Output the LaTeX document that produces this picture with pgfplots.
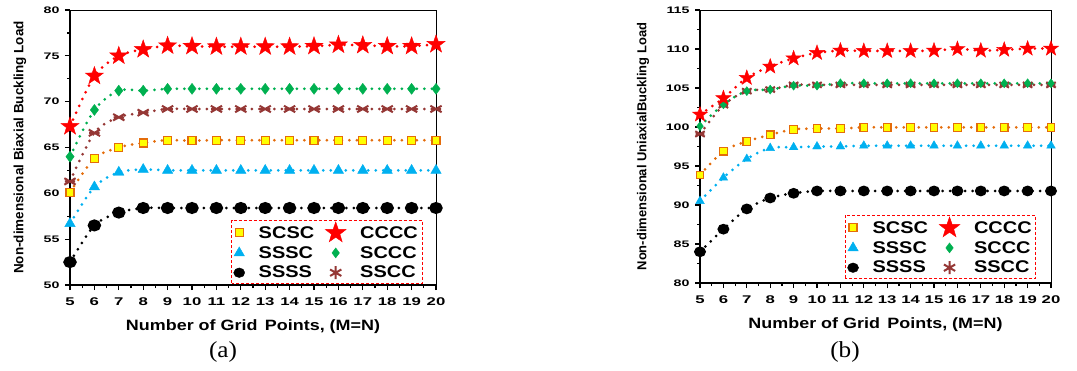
\documentclass[border=0pt]{standalone}
\usepackage{fontspec}
\setmainfont{Liberation Sans}
\usepackage{pgfplots}
\pgfplotsset{compat=1.18}
\usetikzlibrary{plotmarks}
\newfontfamily\tickfont[FakeStretch=1.5]{Liberation Sans}
\newfontfamily\labfont[FakeStretch=1.2]{Liberation Sans}
\newfontfamily\legfont[FakeStretch=1.18]{Liberation Sans}
\newfontfamily\capfont[FakeStretch=1.1]{Liberation Serif}

\definecolor{cOrange}{HTML}{E46C0A}
\definecolor{cRed}{HTML}{FF0000}
\definecolor{cBlue}{HTML}{00B0F0}
\definecolor{cGreen}{HTML}{00B050}
\definecolor{cBrown}{HTML}{953735}
\definecolor{cYellow}{HTML}{FFFF00}

\pgfdeclareplotmark{fstar}{%
  \pgfpathmoveto{\pgfpointpolar{90}{\pgfplotmarksize}}%
  \pgfpathlineto{\pgfpointpolar{126}{0.40\pgfplotmarksize}}%
  \pgfpathlineto{\pgfpointpolar{162}{\pgfplotmarksize}}%
  \pgfpathlineto{\pgfpointpolar{198}{0.40\pgfplotmarksize}}%
  \pgfpathlineto{\pgfpointpolar{234}{\pgfplotmarksize}}%
  \pgfpathlineto{\pgfpointpolar{270}{0.40\pgfplotmarksize}}%
  \pgfpathlineto{\pgfpointpolar{306}{\pgfplotmarksize}}%
  \pgfpathlineto{\pgfpointpolar{342}{0.40\pgfplotmarksize}}%
  \pgfpathlineto{\pgfpointpolar{18}{\pgfplotmarksize}}%
  \pgfpathlineto{\pgfpointpolar{54}{0.40\pgfplotmarksize}}%
  \pgfpathclose
  \pgfusepathqfillstroke}

\pgfdeclareplotmark{xast}{%
  \pgfpathmoveto{\pgfpointpolar{30}{\pgfplotmarksize}}%
  \pgfpathlineto{\pgfpointpolar{210}{\pgfplotmarksize}}%
  \pgfpathmoveto{\pgfpointpolar{150}{\pgfplotmarksize}}%
  \pgfpathlineto{\pgfpointpolar{330}{\pgfplotmarksize}}%
  \pgfpathmoveto{\pgfpointpolar{0}{0.8\pgfplotmarksize}}%
  \pgfpathlineto{\pgfpointpolar{180}{0.8\pgfplotmarksize}}%
  \pgfusepathqstroke}

\tikzset{legbox/.style={draw=cRed, line width=0.9bp, dash pattern=on 3bp off 2bp}}

\pgfplotsset{
  dotline/.style={line width=3bp, dash pattern=on 0pt off 7.5bp, line cap=round, smooth},
  mSCSC/.style={color=cOrange, mark=square*, mark size=#1, mark options={solid, fill=cYellow, draw=cOrange, line width=1.2bp}},
  mCCCC/.style={color=cRed, mark=fstar, mark size=#1, mark options={solid, fill=cRed, draw=cRed, line width=0.4bp}},
  mSSSC/.style={color=cBlue, mark=triangle*, mark size=#1, mark options={solid, fill=cBlue, draw=cBlue, line width=0.4bp}},
  mSCCC/.style={color=cGreen, mark=diamond*, mark size=#1, mark options={solid, fill=cGreen, draw=cGreen, line width=0.4bp}},
  mSSSS/.style={color=black, mark=*, mark size=#1, mark options={solid, fill=black, draw=black, xscale=1.15}},
  mSSCC/.style={color=cBrown, mark=asterisk, mark size=#1, mark options={solid, draw=cBrown, line width=2bp, line cap=butt}},
  mSSCCx/.style={color=cBrown, mark=xast, mark size=#1, mark options={solid, draw=cBrown, line width=2bp, line cap=butt}},
  common/.style={
    scale only axis, anchor=south west, clip=false,
    xmin=5, xmax=20, xtick={5,...,20},
    minor x tick num=1, minor y tick num=1,
    axis lines*=left,
    axis line style={-, line width=2.5bp, black},
    tick align=outside,
    major tick length=5bp, minor tick length=3bp,
    every tick/.style={black, line width=1.2bp},
    /pgf/number format/assume math mode=true,
    yticklabel style={font=\tickfont\bfseries\fontsize{9.5}{11}\selectfont, xshift=-2bp},
    xticklabel style={font=\tickfont\bfseries\fontsize{11.2}{13}\selectfont, yshift=-4bp},
    xlabel={Number of Grid\, Points, (M=N)},
    xlabel style={font=\labfont\bfseries\fontsize{15}{17}\selectfont, at={(axis description cs:0.5,0)}, anchor=center, yshift=-42bp},
    ylabel style={font=\bfseries\fontsize{13.5}{15}\selectfont, at={(axis description cs:0,0.5)}, anchor=center},
    legend columns=2,
    legend cell align=left,
    legend style={draw=none, fill=white,
      font=\legfont\bfseries\fontsize{17}{19}\selectfont,
      inner xsep=2bp, inner ysep=1.5bp, row sep=2.5bp,
      /tikz/every odd column/.style={column sep=12bp},
      /tikz/every even column/.style={column sep=9bp}},
  },
}

\begin{document}
\begin{tikzpicture}[x=1bp,y=1bp]
\useasboundingbox (0,0) rectangle (1077,370);

% ---------------- (a) ----------------
\begin{axis}[common, at={(70bp,85bp)}, width=366bp, height=275bp,
  ymin=50, ymax=80, ytick={50,55,...,80},
  ylabel={Non-dimensional Biaxial Buckling Load},
  ylabel style={xshift=0bp, yshift=50bp},
  legend style={at={(0.962,0.007)}, anchor=south east, name=legA}]
\addlegendimage{only marks, mSCSC=4bp}
\addlegendentry{SCSC}
\addlegendimage{only marks, mCCCC=11bp}
\addlegendentry{CCCC}
\addlegendimage{only marks, mSSSC=6bp}
\addlegendentry{SSSC}
\addlegendimage{only marks, mSCCC=5bp}
\addlegendentry{SCCC}
\addlegendimage{only marks, mSSSS=4.8bp}
\addlegendentry{SSSS}
\addlegendimage{only marks, mSSCC=6.5bp}
\addlegendentry{SSCC}

\addplot[forget plot, dotline, mSSSS=4.5bp] coordinates {
(5,52.5) (6,56.5) (7,57.9) (8,58.4) (9,58.4) (10,58.4) (11,58.4) (12,58.4) (13,58.4) (14,58.4) (15,58.4) (16,58.4) (17,58.4) (18,58.4) (19,58.4) (20,58.4)};
\addplot[forget plot, dotline, mSSSC=6bp] coordinates {
(5,56.7) (6,60.7) (7,62.3) (8,62.6) (9,62.5) (10,62.5) (11,62.5) (12,62.5) (13,62.5) (14,62.5) (15,62.5) (16,62.5) (17,62.5) (18,62.5) (19,62.5) (20,62.5)};
\addplot[forget plot, dotline, mSCSC=4bp] coordinates {
(5,60.1) (6,63.8) (7,65.0) (8,65.5) (9,65.8) (10,65.75) (11,65.8) (12,65.8) (13,65.8) (14,65.8) (15,65.8) (16,65.8) (17,65.8) (18,65.8) (19,65.8) (20,65.8)};
\addplot[forget plot, dotline, mSSCCx=6.5bp] coordinates {
(5,61.3) (6,66.6) (7,68.3) (8,68.8) (9,69.2) (10,69.2) (11,69.2) (12,69.2) (13,69.2) (14,69.2) (15,69.2) (16,69.2) (17,69.2) (18,69.2) (19,69.2) (20,69.2)};
\addplot[forget plot, dotline, mSCCC=5.5bp] coordinates {
(5,64.0) (6,69.1) (7,71.2) (8,71.2) (9,71.4) (10,71.4) (11,71.4) (12,71.4) (13,71.4) (14,71.4) (15,71.4) (16,71.4) (17,71.4) (18,71.4) (19,71.4) (20,71.4)};
\addplot[forget plot, dotline, mCCCC=9.5bp] coordinates {
(5,67.3) (6,72.8) (7,75.0) (8,75.7) (9,76.1) (10,76.05) (11,76.0) (12,76.0) (13,76.0) (14,76.0) (15,76.05) (16,76.2) (17,76.15) (18,76.05) (19,76.05) (20,76.25)};

\draw[line width=0.8bp] (rel axis cs:0,1) -- (rel axis cs:1,1) -- (rel axis cs:1,0);
\end{axis}
\draw[legbox] (legA.south west) rectangle (legA.north east);
\node[font=\capfont\fontsize{23}{25}\selectfont] at (223,18) {(a)};

% ---------------- (b) ----------------
\begin{axis}[common, at={(700bp,87bp)}, width=351bp, height=273bp,
  ymin=80, ymax=115, ytick={80,85,...,115},
  ylabel={Non-dimensional UniaxialBuckling Load},
  ylabel style={font=\bfseries\fontsize{13}{15}\selectfont, yshift=57bp},
  legend style={at={(0.957,0.018)}, anchor=south east, name=legB}]
\addlegendimage{only marks, mSCSC=4bp}
\addlegendentry{SCSC}
\addlegendimage{only marks, mCCCC=11bp}
\addlegendentry{CCCC}
\addlegendimage{only marks, mSSSC=6bp}
\addlegendentry{SSSC}
\addlegendimage{only marks, mSCCC=5bp}
\addlegendentry{SCCC}
\addlegendimage{only marks, mSSSS=4.8bp}
\addlegendentry{SSSS}
\addlegendimage{only marks, mSSCC=6.5bp}
\addlegendentry{SSCC}

\addplot[forget plot, dotline, mSSSS=3.8bp] coordinates {
(5,84.0) (6,86.9) (7,89.5) (8,90.9) (9,91.5) (10,91.8) (11,91.8) (12,91.8) (13,91.8) (14,91.8) (15,91.8) (16,91.8) (17,91.8) (18,91.8) (19,91.8) (20,91.8)};
\addplot[forget plot, dotline, mSSSC=5bp] coordinates {
(5,90.5) (6,93.5) (7,95.9) (8,97.3) (9,97.4) (10,97.5) (11,97.5) (12,97.6) (13,97.6) (14,97.6) (15,97.6) (16,97.6) (17,97.6) (18,97.6) (19,97.6) (20,97.6)};
\addplot[forget plot, dotline, mSCSC=3.8bp] coordinates {
(5,93.85) (6,96.9) (7,98.15) (8,99.0) (9,99.7) (10,99.8) (11,99.8) (12,99.95) (13,99.95) (14,99.95) (15,99.95) (16,99.95) (17,99.95) (18,99.95) (19,99.95) (20,99.95)};
\addplot[forget plot, dotline, mSSCCx=5.5bp] coordinates {
(5,99.1) (6,102.8) (7,104.6) (8,104.8) (9,105.4) (10,105.4) (11,105.4) (12,105.4) (13,105.4) (14,105.4) (15,105.4) (16,105.4) (17,105.4) (18,105.4) (19,105.4) (20,105.4)};
\addplot[forget plot, dotline, mSCCC=4.5bp] coordinates {
(5,100.1) (6,102.9) (7,104.6) (8,104.8) (9,105.3) (10,105.3) (11,105.6) (12,105.6) (13,105.6) (14,105.6) (15,105.6) (16,105.6) (17,105.6) (18,105.6) (19,105.6) (20,105.6)};
\addplot[forget plot, dotline, mCCCC=8bp] coordinates {
(5,101.6) (6,103.7) (7,106.3) (8,107.75) (9,108.8) (10,109.5) (11,109.8) (12,109.75) (13,109.75) (14,109.75) (15,109.8) (16,110.0) (17,109.8) (18,109.9) (19,110.05) (20,110.05)};

\draw[line width=0.8bp] (rel axis cs:0,1) -- (rel axis cs:1,1) -- (rel axis cs:1,0);
\end{axis}
\draw[legbox] (legB.south west) rectangle (legB.north east);
\node[font=\capfont\fontsize{23}{25}\selectfont] at (845,18) {(b)};
\end{tikzpicture}
\end{document}
